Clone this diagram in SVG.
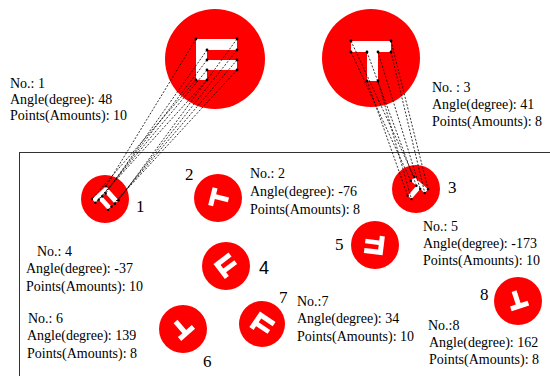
<svg xmlns="http://www.w3.org/2000/svg" xmlns:xlink="http://www.w3.org/1999/xlink" width="550" height="376" viewBox="0 0 550 376">
  <style>
    .disc { fill: #ff0000; }
    .glyph { fill: #ffffff; }
    .info { font-family: "Liberation Serif", "Times New Roman", serif; font-size: 14px; fill: #000; }
    .num { font-family: "Liberation Serif", "Times New Roman", serif; font-size: 17px; fill: #000; }
    .num-sans { font-family: "Liberation Sans", Arial, sans-serif; font-size: 18px; fill: #000; }
    .link { stroke: #000; stroke-width: 0.8; stroke-dasharray: 2 1.6; fill: none; }
    .vtx { fill: #000; }
    .frame { fill: none; stroke: #333; stroke-width: 1; }
  </style>
  <defs>
    <!-- letter outlines centred on the disc centre -->
    <path id="shapeF" d="M-19,-20 H22 V-9 H-8 V1 H22 V11 H-8 V21 H-19 Z"/>
    <path id="shapeT" d="M-20,-17 H20 V-6 H7 V23 H-4 V-6 H-20 Z"/>
  </defs>

  <rect class="frame" x="19.5" y="152.5" width="560" height="260"/>

  <!-- reference letters -->
  <g id="refF">
    <circle class="disc" cx="215" cy="59" r="50"/>
    <use xlink:href="#shapeF" class="glyph" transform="translate(215,59)"/>
  </g>
  <g id="refT">
    <circle class="disc" cx="371" cy="58" r="49"/>
    <use xlink:href="#shapeT" class="glyph" transform="translate(371,58)"/>
  </g>

  <!-- rotated, scaled copies -->
  <g id="node1">
    <circle class="disc" cx="105" cy="199" r="24"/>
    <use xlink:href="#shapeF" class="glyph" transform="translate(105,199) rotate(48) scale(0.46)"/>
    <text class="num" x="136" y="212">1</text>
  </g>
  <g id="node2">
    <circle class="disc" cx="218" cy="198" r="24"/>
    <use xlink:href="#shapeT" class="glyph" transform="translate(218,198) rotate(-76) scale(0.46)"/>
    <text class="num" x="185" y="180">2</text>
  </g>
  <g id="node3">
    <circle class="disc" cx="416" cy="189" r="24"/>
    <use xlink:href="#shapeT" class="glyph" transform="translate(416,189) rotate(41) scale(0.46)"/>
    <text class="num" x="448" y="193">3</text>
  </g>
  <g id="node4">
    <circle class="disc" cx="226" cy="266" r="24"/>
    <use xlink:href="#shapeF" class="glyph" transform="translate(226,266) rotate(-37) scale(0.46)"/>
    <text class="num-sans" x="259" y="274">4</text>
  </g>
  <g id="node5">
    <circle class="disc" cx="375" cy="245" r="24"/>
    <use xlink:href="#shapeF" class="glyph" transform="translate(375,245) rotate(-173) scale(0.46)"/>
    <text class="num" x="335" y="250">5</text>
  </g>
  <g id="node6">
    <circle class="disc" cx="183" cy="329" r="24"/>
    <use xlink:href="#shapeT" class="glyph" transform="translate(183,329) rotate(139) scale(0.46)"/>
    <text class="num" x="203" y="367">6</text>
  </g>
  <g id="node7">
    <circle class="disc" cx="262" cy="324" r="23"/>
    <use xlink:href="#shapeF" class="glyph" transform="translate(262,324) rotate(34) scale(0.46)"/>
    <text class="num" x="279" y="303">7</text>
  </g>
  <g id="node8">
    <circle class="disc" cx="518" cy="301" r="24"/>
    <use xlink:href="#shapeT" class="glyph" transform="translate(518,301) rotate(162) scale(0.46)"/>
    <text class="num" x="480" y="300">8</text>
  </g>

  <!-- vertex correspondences -->
  <g id="connectors">
    <path class="link" d="M196,39 L105.99,186.35 M237,39 L118.61,200.37 M237,50 L114.85,203.75 M207,50 L105.62,193.50 M207,60 L102.20,196.57 M237,60 L111.43,206.83 M237,70 L108.01,209.91 M207,70 L98.78,199.65 M207,80 L95.36,202.73 M196,80 L91.97,198.97"/>
    <path class="link" d="M351,41 L414.19,177.06 M391,41 L428.07,189.13 M391,52 L424.75,192.95 M378,52 L420.24,189.03 M378,81 L411.49,199.10 M367,81 L407.67,195.78 M367,52 L416.42,185.71 M351,52 L410.87,180.88"/>
    <g class="vtx">
      <circle cx="196" cy="39" r="1.4"/><circle cx="237" cy="39" r="1.4"/><circle cx="237" cy="50" r="1.4"/><circle cx="207" cy="50" r="1.4"/><circle cx="207" cy="60" r="1.4"/>
      <circle cx="237" cy="60" r="1.4"/><circle cx="237" cy="70" r="1.4"/><circle cx="207" cy="70" r="1.4"/><circle cx="207" cy="80" r="1.4"/><circle cx="196" cy="80" r="1.4"/>
      <circle cx="351" cy="41" r="1.4"/><circle cx="391" cy="41" r="1.4"/><circle cx="391" cy="52" r="1.4"/><circle cx="378" cy="52" r="1.4"/>
      <circle cx="378" cy="81" r="1.4"/><circle cx="367" cy="81" r="1.4"/><circle cx="367" cy="52" r="1.4"/><circle cx="351" cy="52" r="1.4"/>
      <circle cx="105.99" cy="186.35" r="1.2"/><circle cx="118.61" cy="200.37" r="1.2"/><circle cx="114.85" cy="203.75" r="1.2"/><circle cx="105.62" cy="193.50" r="1.2"/><circle cx="102.20" cy="196.57" r="1.2"/>
      <circle cx="111.43" cy="206.83" r="1.2"/><circle cx="108.01" cy="209.91" r="1.2"/><circle cx="98.78" cy="199.65" r="1.2"/><circle cx="95.36" cy="202.73" r="1.2"/><circle cx="91.97" cy="198.97" r="1.2"/>
      <circle cx="414.19" cy="177.06" r="1.2"/><circle cx="428.07" cy="189.13" r="1.2"/><circle cx="424.75" cy="192.95" r="1.2"/><circle cx="420.24" cy="189.03" r="1.2"/>
      <circle cx="411.49" cy="199.10" r="1.2"/><circle cx="407.67" cy="195.78" r="1.2"/><circle cx="416.42" cy="185.71" r="1.2"/><circle cx="410.87" cy="180.88" r="1.2"/>
    </g>
  </g>

  <!-- parameter notes -->
  <g id="info1" class="info">
    <text x="10" y="88">No.: 1</text>
    <text x="10" y="104">Angle(degree): 48</text>
    <text x="10" y="120">Points(Amounts): 10</text>
  </g>
  <g id="info3" class="info">
    <text x="432" y="92">No. : 3</text>
    <text x="432" y="109">Angle(degree): 41</text>
    <text x="432" y="126">Points(Amounts): 8</text>
  </g>
  <g id="info2" class="info">
    <text x="250" y="178">No.: 2</text>
    <text x="250" y="196">Angle(degree): -76</text>
    <text x="250" y="214">Points(Amounts): 8</text>
  </g>
  <g id="info5" class="info">
    <text x="423" y="231">No.: 5</text>
    <text x="423" y="248">Angle(degree): -173</text>
    <text x="423" y="265">Points(Amounts): 10</text>
  </g>
  <g id="info4" class="info">
    <text x="37" y="256">No.: 4</text>
    <text x="26" y="273">Angle(degree): -37</text>
    <text x="26" y="291">Points(Amounts): 10</text>
  </g>
  <g id="info6" class="info">
    <text x="28" y="323">No.: 6</text>
    <text x="27" y="340">Angle(degree): 139</text>
    <text x="27" y="358">Points(Amounts): 8</text>
  </g>
  <g id="info7" class="info">
    <text x="297" y="306">No.:7</text>
    <text x="297" y="323">Angle(degree): 34</text>
    <text x="297" y="341">Points(Amounts): 10</text>
  </g>
  <g id="info8" class="info">
    <text x="428" y="330">No.:8</text>
    <text x="429" y="347">Angle(degree): 162</text>
    <text x="429" y="364">Points(Amounts): 8</text>
  </g>
</svg>
